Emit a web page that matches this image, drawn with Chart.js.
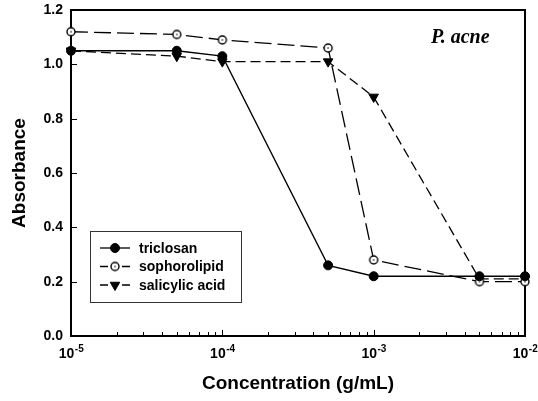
<!DOCTYPE html>
<html>
<head>
<meta charset="utf-8">
<script src="https://cdn.jsdelivr.net/npm/chart.js@4/dist/chart.umd.min.js"></script>
<style>
body { margin: 0; background: #fff; }
#wrap { position: relative; width: 538px; height: 401px; }
</style>
</head>
<body>
<div id="wrap"><canvas id="chart-pacne"></canvas></div>
<script>
// data
const concentrations = [1e-5, 5e-5, 1e-4, 5e-4, 1e-3, 5e-3, 1e-2];
const triclosan = [1.05, 1.05, 1.03, 0.26, 0.22, 0.22, 0.22];
const sophorolipid = [1.12, 1.11, 1.09, 1.06, 0.28, 0.20, 0.20];
const salicylicAcid = [1.05, 1.03, 1.01, 1.01, 0.88, 0.21, 0.21];
const seriesNames = ['triclosan', 'sophorolipid', 'salicylic acid'];
const yTicks = [0, 0.2, 0.4, 0.6, 0.8, 1.0, 1.2];
const xMajorTicks = [1e-5, 1e-4, 1e-3, 1e-2];
const xTickExponents = ['-5', '-4', '-3', '-2'];

const FONT = "'Liberation Sans', Arial, sans-serif";

// open circle with a small dot in the middle (sophorolipid marker)
function dotCircle() {
    const c = document.createElement('canvas');
    c.width = 12; c.height = 12;
    const g = c.getContext('2d');
    g.fillStyle = '#fff';
    g.strokeStyle = '#000';
    g.lineWidth = 1.4;
    g.beginPath(); g.arc(6, 6, 4, 0, Math.PI * 2); g.fill(); g.stroke();
    g.fillStyle = '#000';
    g.beginPath(); g.arc(6, 6, 0.8, 0, Math.PI * 2); g.fill();
    return c;
}
const openMarker = dotCircle();

function pts(values) {
    return values.map((v, i) => ({ x: concentrations[i], y: v }));
}

const datasets = [{
    label: seriesNames[0],
    data: pts(triclosan),
    borderColor: '#000',
    backgroundColor: '#000',
    borderWidth: 1.3,
    pointStyle: 'circle',
    pointRadius: 4.5,
    pointBorderWidth: 1,
}, {
    label: seriesNames[1],
    data: pts(sophorolipid),
    borderColor: '#000',
    backgroundColor: '#fff',
    borderWidth: 1.3,
    borderDash: [17, 6],
    pointStyle: openMarker,
    pointRadius: 5,
}, {
    label: seriesNames[2],
    data: pts(salicylicAcid),
    borderColor: '#000',
    backgroundColor: '#000',
    borderWidth: 1.3,
    borderDash: [10, 5],
    pointStyle: 'triangle',
    pointRotation: 180,
    pointRadius: 5.5,
    pointBorderWidth: 1,
}];
datasets.forEach(d => { d.clip = false; d.tension = 0; d.fill = false; });

function marker(ctx, ds, x, y) {
    ctx.save();
    ctx.fillStyle = ds.backgroundColor;
    ctx.strokeStyle = ds.borderColor;
    ctx.lineWidth = ds.pointBorderWidth || 1;
    ctx.setLineDash([]);
    if (ds.pointStyle instanceof HTMLCanvasElement) {
        ctx.drawImage(ds.pointStyle, x - ds.pointStyle.width / 2, y - ds.pointStyle.height / 2);
    } else if (ds.pointStyle === 'triangle') {
        const r = ds.pointRadius;
        let a = Math.PI;
        ctx.beginPath();
        for (let k = 0; k < 3; k++) {
            const px = x + Math.sin(a) * r, py = y - Math.cos(a) * r;
            k ? ctx.lineTo(px, py) : ctx.moveTo(px, py);
            a += Math.PI * 2 / 3;
        }
        ctx.closePath(); ctx.fill(); ctx.stroke();
    } else {
        ctx.beginPath(); ctx.arc(x, y, ds.pointRadius, 0, Math.PI * 2); ctx.fill(); ctx.stroke();
    }
    ctx.restore();
}

// frame, inward ticks, x labels with exponents, legend box, organism label
const decorations = {
    id: 'decorations',
    beforeDatasetsDraw(chart) {
        const { ctx, chartArea: a, scales: { x, y } } = chart;
        ctx.save();
        ctx.strokeStyle = '#000';
        ctx.lineWidth = 2;
        ctx.beginPath();
        ctx.moveTo(a.left - 1, a.top); ctx.lineTo(a.right, a.top); ctx.lineTo(a.right, a.bottom + 1);
        ctx.stroke();
        ctx.lineWidth = 1;
        ctx.beginPath();
        yTicks.forEach(v => {
            const py = Math.round(y.getPixelForValue(v)) + 0.5;
            ctx.moveTo(a.left, py); ctx.lineTo(a.left + 6, py);
        });
        xMajorTicks.forEach((m, i) => {
            const px = Math.round(x.getPixelForValue(m)) + 0.5;
            ctx.moveTo(px, a.bottom); ctx.lineTo(px, a.bottom - 6);
            if (i < xMajorTicks.length - 1) {
                for (let k = 2; k <= 9; k++) {
                    const qx = Math.round(x.getPixelForValue(m * k)) + 0.5;
                    ctx.moveTo(qx, a.bottom); ctx.lineTo(qx, a.bottom - 4);
                }
            }
        });
        ctx.stroke();
        ctx.restore();
    },
    afterDraw(chart) {
        const { ctx, chartArea: a, scales: { x } } = chart;
        ctx.save();
        ctx.fillStyle = '#000';
        ctx.textBaseline = 'alphabetic';
        // x tick labels 10^n
        xMajorTicks.forEach((m, i) => {
            const px = x.getPixelForValue(m);
            ctx.font = 'bold 14px ' + FONT;
            const wb = ctx.measureText('10').width;
            ctx.font = 'bold 10px ' + FONT;
            const we = ctx.measureText(xTickExponents[i]).width;
            const x0 = px - (wb + we) / 2;
            ctx.font = 'bold 14px ' + FONT;
            ctx.fillText('10', x0, a.bottom + 22);
            ctx.font = 'bold 10px ' + FONT;
            ctx.fillText(xTickExponents[i], x0 + wb + 0.5, a.bottom + 16);
        });
        // organism label
        ctx.font = "italic bold 20px 'Liberation Serif', 'Times New Roman', serif";
        ctx.fillText('P. acne', a.left + 360, a.top + 33);
        // legend
        const lx = a.left + 19, ly = a.top + 221;
        ctx.strokeStyle = '#333';
        ctx.lineWidth = 1;
        ctx.strokeRect(lx + 0.5, ly + 0.5, 151, 71);
        ctx.font = 'bold 14px ' + FONT;
        ctx.textBaseline = 'middle';
        chart.data.datasets.forEach((ds, i) => {
            const ry = ly + 17 + i * 18.5;
            ctx.save();
            ctx.strokeStyle = '#000';
            ctx.lineWidth = 1.3;
            ctx.beginPath();
            if (ds.borderDash) {
                ctx.moveTo(lx + 10, ry); ctx.lineTo(lx + 18, ry);
                ctx.moveTo(lx + 32, ry); ctx.lineTo(lx + 40, ry);
            } else {
                ctx.moveTo(lx + 10, ry); ctx.lineTo(lx + 40, ry);
            }
            ctx.stroke();
            ctx.restore();
            marker(ctx, ds, lx + 25, ry);
            ctx.fillStyle = '#000';
            ctx.fillText(ds.label, lx + 49, ry + 1);
        });
        ctx.restore();
    }
};

const ctx = document.getElementById('chart-pacne');
new Chart(ctx, {
    type: 'line',
    data: { datasets: datasets },
    plugins: [decorations],
    options: {
        responsive: true,
        maintainAspectRatio: false,
        animation: false,
        layout: { padding: { top: 10, right: 13, left: 0, bottom: 0 } },
        plugins: { legend: { display: false }, tooltip: { enabled: false } },
        scales: {
            x: {
                type: 'logarithmic',
                min: 1e-5,
                max: 1e-2,
                grid: { display: false, drawTicks: false },
                border: { color: '#000', width: 2 },
                ticks: { display: false },
                title: {
                    display: true,
                    text: 'Concentration (g/mL)',
                    color: '#000',
                    font: { family: FONT, size: 19, weight: 'bold' },
                    padding: { top: 0, bottom: 6 }
                },
                afterFit: s => { s.height = 65; s.paddingLeft = 0; s.paddingRight = 0; }
            },
            y: {
                min: 0,
                max: 1.2,
                grid: { display: false, drawTicks: false },
                border: { color: '#000', width: 2 },
                ticks: {
                    stepSize: 0.2,
                    padding: 8,
                    color: '#000',
                    font: { family: FONT, size: 14, weight: 'bold' },
                    callback: v => v.toFixed(1)
                },
                title: {
                    display: true,
                    text: 'Absorbance',
                    color: '#000',
                    font: { family: FONT, size: 19, weight: 'bold' },
                    padding: { top: 8, bottom: 0 }
                },
                afterFit: s => { s.width = 71; s.paddingTop = 0; s.paddingBottom = 0; }
            }
        }
    }
});
</script>
</body>
</html>
